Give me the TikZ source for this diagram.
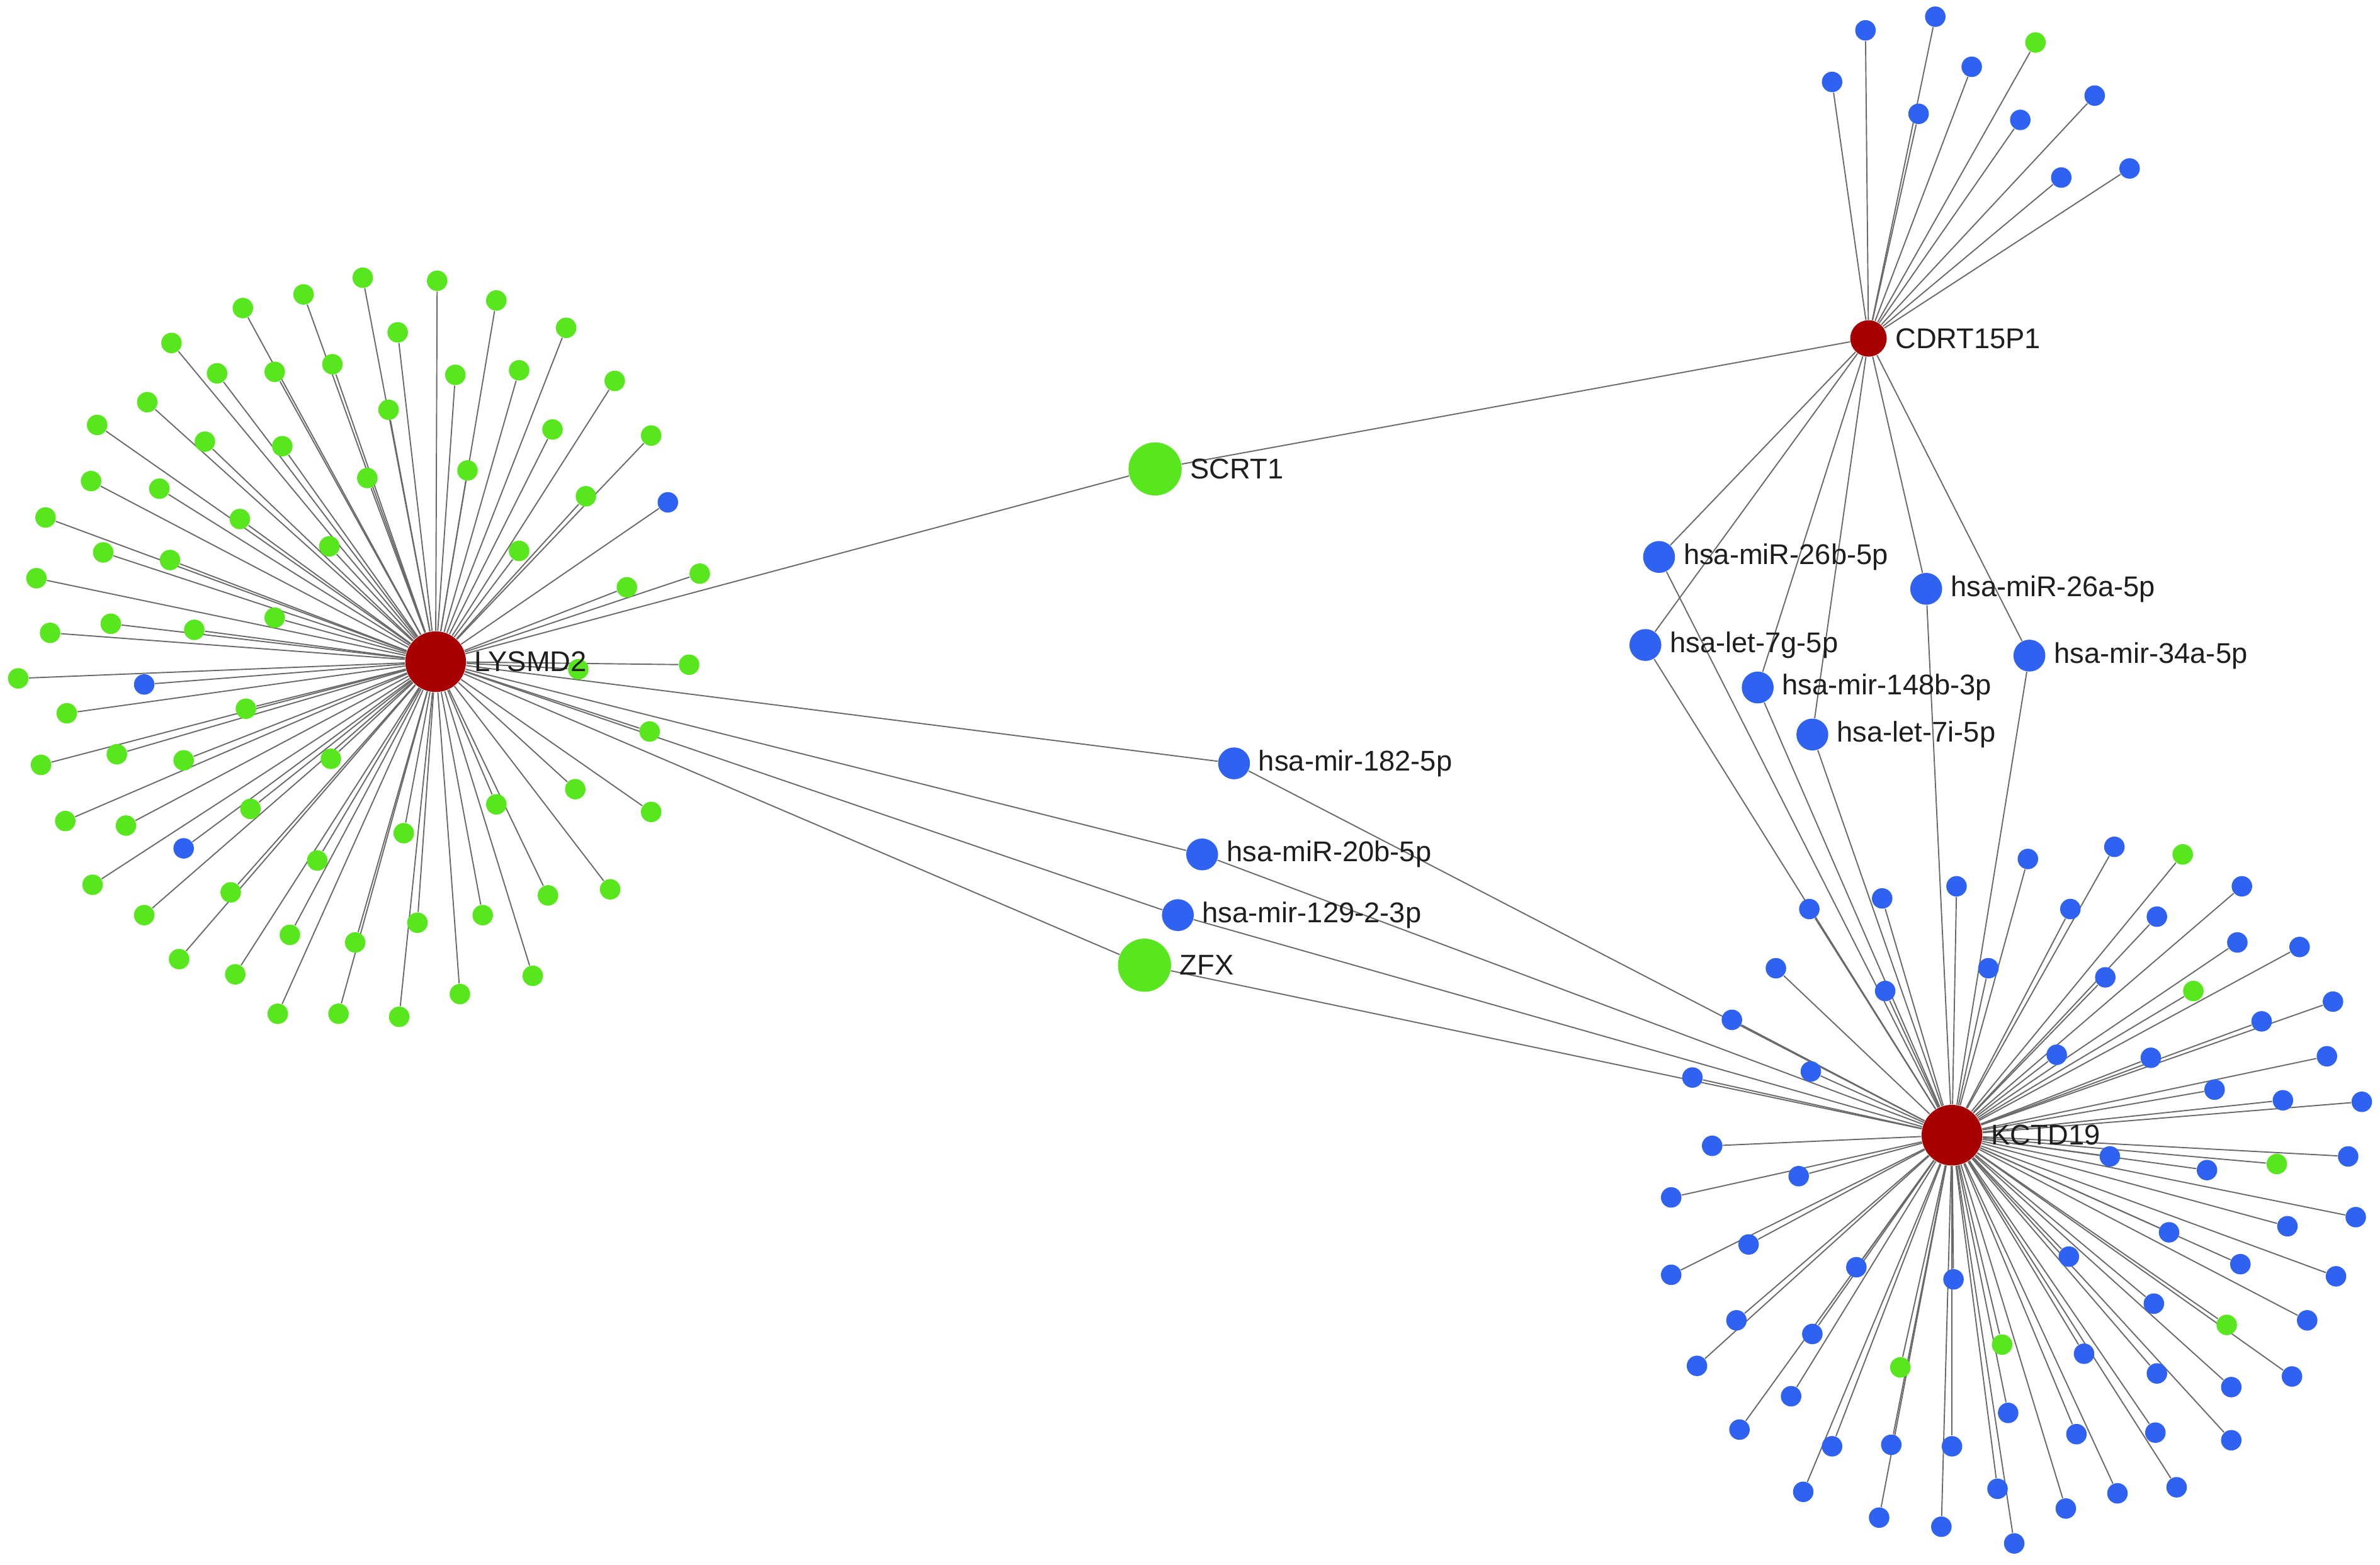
\documentclass[tikz,border=0pt]{standalone}
\usepackage{fontspec}
\setmainfont{Liberation Sans}
\usetikzlibrary{backgrounds}

\definecolor{hubred}{RGB}{168,0,0}
\definecolor{leafgreen}{RGB}{88,230,30}
\definecolor{leafblue}{RGB}{47,98,240}
\definecolor{edgegray}{RGB}{105,105,105}
\definecolor{textgray}{RGB}{30,30,30}

% leaf positions (x/y)
\newcommand{\lysGreen}{239/183, 288/185, 200/194, 327/198, 160/203, 113/226, 262/219, 373/216,
  219/240, 143/246, 181/245, 300/247, 405/251, 342/244, 97/265, 256/270, 364/283, 64/280,
  135/291, 429/287, 186/294, 308/310, 105/322, 60/317, 242/315, 386/327, 30/341, 158/342,
  217/360, 342/363, 68/364, 112/369, 413/387, 461/378, 24/381, 181/407, 73/411, 128/415,
  33/417, 12/447, 162/467, 44/470, 77/497, 121/501, 27/504, 218/500, 165/533, 43/541,
  83/544, 209/567, 61/583, 152/588, 95/603, 191/616, 234/621, 118/632, 155/642, 183/668,
  223/668, 381/441, 454/438, 428/482, 379/520, 429/535, 327/530, 266/549, 402/586, 361/590,
  318/603, 275/608, 351/643, 303/655, 263/670}
\newcommand{\lysBlue}{440/331, 95/451, 121/559}
\newcommand{\kctBlue}{1192/599, 1240/592, 1289/584, 1170/638, 1242/653, 1310/638, 1141/672,
  1193/706, 1115/710, 1128/755, 1185/775, 1101/789, 1336/566, 1393/558, 1364/599, 1477/584,
  1421/604, 1474/621, 1515/624, 1387/644, 1537/660, 1490/673, 1355/695, 1417/697, 1533/696,
  1459/718, 1504/725, 1556/726, 1390/762, 1454/771, 1547/762, 1152/820, 1101/840, 1223/835,
  1287/843, 1144/870, 1194/879, 1118/900, 1180/920, 1146/942, 1207/953, 1246/952, 1286/953,
  1323/931, 1188/983, 1316/981, 1238/1000, 1279/1006, 1327/1017, 1552/802, 1507/808,
  1429/812, 1363/828, 1476/833, 1539/841, 1419/859, 1520/870, 1373/892, 1421/905, 1510/907,
  1470/914, 1368/945, 1420/944, 1470/949, 1395/984, 1434/980, 1361/994}
\newcommand{\kctGreen}{1438/563, 1445/653, 1500/767, 1252/901, 1319/886, 1467/873}
\newcommand{\cdrBlue}{1229/20, 1275/11, 1207/54, 1264/75, 1299/44, 1331/79, 1380/63, 1358/117, 1403/111}
\newcommand{\cdrGreen}{1341/28}

\begin{document}
\begin{tikzpicture}[x=0.02cm, y=-0.02cm, label distance=1mm,
		hub node/.style = {circle, fill=hubred, minimum size=0.8cm, inner sep=0pt},
		small hub/.style = {hub node, minimum size=0.48cm},
		gene node/.style = {circle, fill=leafgreen, minimum size=0.7cm, inner sep=0pt},
		mir node/.style = {circle, fill=leafblue, minimum size=0.42cm, inner sep=0pt},
		leaf node/.style = {circle, minimum size=0.27cm, inner sep=0pt},
		name text/.style = {font=\fontsize{10.7}{12}\selectfont, text=textgray, inner sep=0pt},
		link/.style = {draw=edgegray, line width=0.45pt}]
	\useasboundingbox (0,0) rectangle (1568,1031);

	% leaves
	\foreach \x/\y [count=\i] in \lysGreen
		\node[leaf node, fill=leafgreen] (lyg\i) at (\x,\y) {};
	\foreach \x/\y [count=\i] in \lysBlue
		\node[leaf node, fill=leafblue] (lyb\i) at (\x,\y) {};
	\foreach \x/\y [count=\i] in \kctBlue
		\node[leaf node, fill=leafblue] (kcb\i) at (\x,\y) {};
	\foreach \x/\y [count=\i] in \kctGreen
		\node[leaf node, fill=leafgreen] (kcg\i) at (\x,\y) {};
	\foreach \x/\y [count=\i] in \cdrBlue
		\node[leaf node, fill=leafblue] (cdb\i) at (\x,\y) {};
	\foreach \x/\y [count=\i] in \cdrGreen
		\node[leaf node, fill=leafgreen] (cdg\i) at (\x,\y) {};

	% hubs and shared nodes
	\node[hub node, label={[name text]right:LYSMD2}] (lys) at (287,436) {};
	\node[hub node, label={[name text]right:KCTD19}] (kct) at (1286,748) {};
	\node[small hub, label={[name text]right:CDRT15P1}] (cdr) at (1231,223) {};
	\node[gene node, label={[name text]right:SCRT1}] (scrt) at (761,309) {};
	\node[gene node, label={[name text]right:ZFX}] (zfx) at (754,636) {};
	\node[mir node, label={[name text]right:hsa-mir-182-5p}] (m182) at (813,503) {};
	\node[mir node, label={[name text]right:hsa-miR-20b-5p}] (m20b) at (792,563) {};
	\node[mir node, label={[name text]right:hsa-mir-129-2-3p}] (m129) at (776,603) {};
	\node[mir node, label={[name text]right:hsa-miR-26b-5p}] (m26b) at (1093,367) {};
	\node[mir node, label={[name text]right:hsa-miR-26a-5p}] (m26a) at (1269,388) {};
	\node[mir node, label={[name text]right:hsa-let-7g-5p}] (l7g) at (1084,425) {};
	\node[mir node, label={[name text]right:hsa-mir-148b-3p}] (m148) at (1158,453) {};
	\node[mir node, label={[name text]right:hsa-mir-34a-5p}] (m34a) at (1337,432) {};
	\node[mir node, label={[name text]right:hsa-let-7i-5p}] (l7i) at (1194,484) {};

	\begin{scope}[on background layer]
		\foreach \x/\y [count=\i] in \lysGreen \draw[link] (lys) -- (lyg\i);
		\foreach \x/\y [count=\i] in \lysBlue \draw[link] (lys) -- (lyb\i);
		\foreach \x/\y [count=\i] in \kctBlue \draw[link] (kct) -- (kcb\i);
		\foreach \x/\y [count=\i] in \kctGreen \draw[link] (kct) -- (kcg\i);
		\foreach \x/\y [count=\i] in \cdrBlue \draw[link] (cdr) -- (cdb\i);
		\foreach \x/\y [count=\i] in \cdrGreen \draw[link] (cdr) -- (cdg\i);

		\path[link]
		(lys) edge (scrt)
		(scrt) edge (cdr)
		(lys) edge (m182)
		(lys) edge (m20b)
		(lys) edge (m129)
		(lys) edge (zfx)
		(m182) edge (kct)
		(m20b) edge (kct)
		(m129) edge (kct)
		(zfx) edge (kct)
		(cdr) edge (m26b)
		(cdr) edge (l7g)
		(cdr) edge (m148)
		(cdr) edge (l7i)
		(cdr) edge (m26a)
		(cdr) edge (m34a)
		(m26b) edge (kct)
		(l7g) edge (kct)
		(m148) edge (kct)
		(l7i) edge (kct)
		(m26a) edge (kct)
		(m34a) edge (kct);
	\end{scope}
\end{tikzpicture}
\end{document}
